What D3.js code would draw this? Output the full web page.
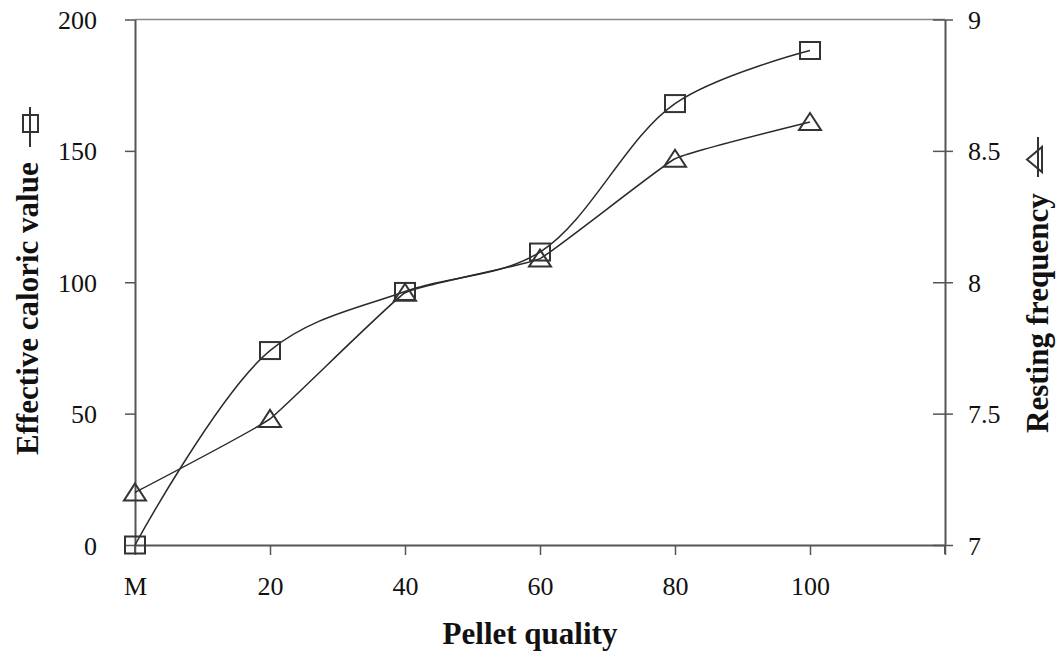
<!DOCTYPE html>
<html><head><meta charset="utf-8">
<script src="https://cdn.jsdelivr.net/npm/d3@7"></script>
<style>body{margin:0;background:#fff}svg{display:block}text{font-family:"Liberation Serif","Times New Roman",serif;fill:#111}</style>
</head><body>
<script>
const xValues = [0, 20, 40, 60, 80, 100];
const xLabels = ["M", "20", "40", "60", "80", "100"];
const caloric = [0, 74, 96.5, 111.5, 168, 188.2];
const resting = [7.2, 7.48, 7.96, 8.09, 8.47, 8.61];
const leftTicks = [0, 50, 100, 150, 200];
const rightTicks = [7, 7.5, 8, 8.5, 9];
const rightTickLabels = ["7", "7.5", "8", "8.5", "9"];

const W = 1057, H = 657;
const L = 135, R = 945, T = 19.5, B = 545;
const svg = d3.select("body").append("svg").attr("width", W).attr("height", H);

const x = d3.scaleLinear().domain([0, 120]).range([L, R]);
const yL = d3.scaleLinear().domain([0, 200]).range([B, T]);
const yR = d3.scaleLinear().domain([7, 9]).range([B, T]);
const axisColor = "#555";
const tickFont = 26;

// frame top line
svg.append("line").attr("x1", L).attr("x2", R).attr("y1", T).attr("y2", T).attr("stroke", "#888").attr("stroke-width", 1.5);

// bottom axis
const gx = svg.append("g").attr("transform", `translate(0,${B})`)
  .call(d3.axisBottom(x).tickValues([0, 20, 40, 60, 80, 100, 120]).tickSize(10).tickSizeOuter(0)
    .tickFormat(d => { const i = xValues.indexOf(d); return i >= 0 ? xLabels[i] : ""; }));
gx.select(".domain").attr("stroke", axisColor).attr("stroke-width", 2);
gx.selectAll(".tick line").attr("stroke", axisColor).attr("stroke-width", 1.5);
gx.selectAll(".tick text").attr("font-size", tickFont).attr("dy", 0).attr("y", 50).style("font-family", "Liberation Serif");

// left axis
const gl = svg.append("g").attr("transform", `translate(${L},0)`)
  .call(d3.axisLeft(yL).tickValues(leftTicks).tickSize(10).tickSizeOuter(0).tickFormat(d3.format("d")));
gl.select(".domain").attr("stroke", axisColor).attr("stroke-width", 2);
gl.selectAll(".tick line").attr("stroke", axisColor).attr("stroke-width", 1.5);
gl.selectAll(".tick text").attr("font-size", tickFont).attr("x", -38).attr("dy", "0.35em").style("font-family", "Liberation Serif");
svg.append("line").attr("x1", L).attr("x2", L).attr("y1", B).attr("y2", B + 9).attr("stroke", axisColor).attr("stroke-width", 2);

// right axis
const gr = svg.append("g").attr("transform", `translate(${R},0)`)
  .call(d3.axisRight(yR).tickValues(rightTicks).tickSize(8).tickSizeOuter(0)
    .tickFormat((d, i) => rightTickLabels[i]));
gr.select(".domain").attr("stroke", axisColor).attr("stroke-width", 2);
gr.selectAll(".tick line").attr("x1", -12).attr("stroke", axisColor).attr("stroke-width", 1.5);
gr.selectAll(".tick text").attr("font-size", tickFont).attr("x", 23).attr("dy", "0.35em").style("font-family", "Liberation Serif");
svg.append("line").attr("x1", R).attr("x2", R).attr("y1", B).attr("y2", B + 9).attr("stroke", axisColor).attr("stroke-width", 2);

const lineColor = "#2a2a2a";

// caloric line (smoothed)
const calData = xValues.map((v, i) => [v, caloric[i]]);
svg.append("path").datum(calData)
  .attr("d", d3.line().x(d => x(d[0])).y(d => yL(d[1])).curve(d3.curveCatmullRom.alpha(0.5)))
  .attr("fill", "none").attr("stroke", lineColor).attr("stroke-width", 1.5);

// resting line
const resData = xValues.map((v, i) => [v, resting[i]]);
svg.append("path").datum(resData)
  .attr("d", d3.line().x(d => x(d[0])).y(d => yR(d[1])).curve(d3.curveCardinal.tension(0.7)))
  .attr("fill", "none").attr("stroke", lineColor).attr("stroke-width", 1.5);

// square markers
svg.selectAll("rect.sq").data(calData).join("rect").attr("class", "sq")
  .attr("x", d => x(d[0]) - 10).attr("y", d => yL(d[1]) - 8.5)
  .attr("width", 20).attr("height", 17)
  .attr("fill", "none").attr("stroke", "#333").attr("stroke-width", 2);

// triangle markers
const tri = (cx, cy) => `M${cx},${cy - 9}L${cx + 11},${cy + 8}L${cx - 11},${cy + 8}Z`;
svg.selectAll("path.tri").data(resData).join("path").attr("class", "tri")
  .attr("d", d => tri(x(d[0]), yR(d[1])))
  .attr("fill", "none").attr("stroke", "#333").attr("stroke-width", 2);

// x title
svg.append("text").attr("x", 530).attr("y", 644).attr("text-anchor", "middle")
  .attr("font-size", 31).attr("font-weight", "bold").text("Pellet quality");

// left title
const lt = svg.append("g").attr("transform", "translate(38,455) rotate(-90)");
lt.append("text").attr("x", 0).attr("y", 0).attr("font-size", 31).attr("font-weight", "bold").text("Effective caloric value");
lt.append("line").attr("x1", 308).attr("x2", 348).attr("y1", -8).attr("y2", -8).attr("stroke", "#333").attr("stroke-width", 2);
lt.append("rect").attr("x", 323).attr("y", -15).attr("width", 17).attr("height", 15).attr("fill", "none").attr("stroke", "#333").attr("stroke-width", 2);

// right title
const rt = svg.append("g").attr("transform", "translate(1048,433) rotate(-90)");
rt.append("text").attr("x", 0).attr("y", 0).attr("font-size", 31).attr("font-weight", "bold").text("Resting frequency");
rt.append("line").attr("x1", 256).attr("x2", 296).attr("y1", -10).attr("y2", -10).attr("stroke", "#333").attr("stroke-width", 2);
rt.append("path").attr("d", "M273.5,-21L286,-6L261,-6Z").attr("fill", "none").attr("stroke", "#333").attr("stroke-width", 2);
</script>
</body></html>
